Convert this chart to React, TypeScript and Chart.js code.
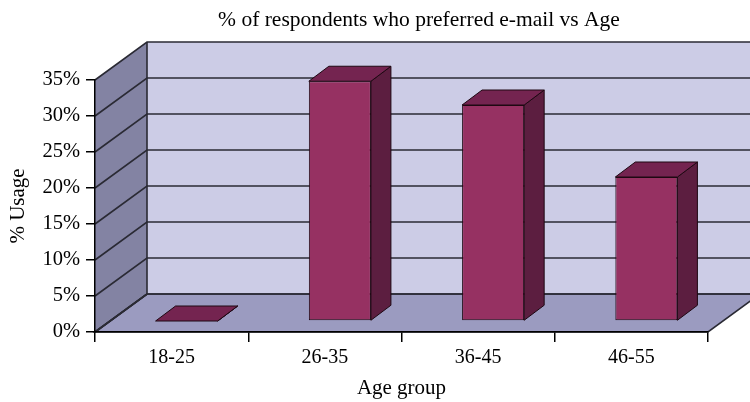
import React, { useEffect, useRef } from "react";
import { Chart, registerables } from "chart.js";

Chart.register(...registerables);

const categories = ["18-25", "26-35", "36-45", "46-55"];
const usage = [0, 33.3, 30, 20];
const yMin = 0;
const yMax = 35;
const yStep = 5;
const titleText = "% of respondents who preferred e-mail vs Age";
const xTitle = "Age group";
const yTitle = "% Usage";

const FONT = "'Liberation Serif', 'Times New Roman', serif";
const WALL_DX = 52;
const WALL_DY = -38;
const BAR_OFF_X = 15;
const BAR_OFF_Y = -11;
const BAR_DX = 20;
const BAR_DY = -15;

const BACK_WALL = "#CCCCE6";
const LEFT_WALL = "#8383A3";
const FLOOR = "#9B9BC0";
const GRID = "#2a2a34";
const BAR_FRONT = "#963162";
const BAR_TOP = "#742450";
const BAR_SIDE = "#5c1e40";
const BAR_EDGE = "#1e0812";

function poly(ctx: CanvasRenderingContext2D, pts: number[][], fill: string, stroke?: string, lw = 1) {
  ctx.beginPath();
  ctx.moveTo(pts[0][0], pts[0][1]);
  for (let i = 1; i < pts.length; i++) ctx.lineTo(pts[i][0], pts[i][1]);
  ctx.closePath();
  ctx.fillStyle = fill;
  ctx.fill();
  if (stroke) {
    ctx.strokeStyle = stroke;
    ctx.lineWidth = lw;
    ctx.stroke();
  }
}

const walls3d = {
  id: "walls3d",
  beforeDraw(chart: any) {
    const { ctx, chartArea } = chart;
    const { left, right, top, bottom } = chartArea;
    const y = chart.scales.y;
    ctx.save();
    poly(ctx, [
      [left + WALL_DX, top + WALL_DY],
      [right + WALL_DX, top + WALL_DY],
      [right + WALL_DX, bottom + WALL_DY],
      [left + WALL_DX, bottom + WALL_DY],
    ], BACK_WALL);
    poly(ctx, [
      [left, top],
      [left + WALL_DX, top + WALL_DY],
      [left + WALL_DX, bottom + WALL_DY],
      [left, bottom],
    ], LEFT_WALL);
    poly(ctx, [
      [left, bottom],
      [right, bottom],
      [right + WALL_DX, bottom + WALL_DY],
      [left + WALL_DX, bottom + WALL_DY],
    ], FLOOR, GRID, 1.6);
    ctx.strokeStyle = GRID;
    ctx.lineWidth = 1.6;
    y.ticks.forEach((t: any) => {
      const py = y.getPixelForValue(t.value);
      ctx.beginPath();
      ctx.moveTo(left, py);
      ctx.lineTo(left + WALL_DX, py + WALL_DY);
      ctx.lineTo(right + WALL_DX, py + WALL_DY);
      ctx.stroke();
    });
    ctx.beginPath();
    ctx.moveTo(left + WALL_DX, top + WALL_DY);
    ctx.lineTo(left + WALL_DX, bottom + WALL_DY);
    ctx.lineTo(left, bottom);
    ctx.stroke();
    ctx.restore();
  },
  beforeDatasetsDraw(chart: any) {
    chart.ctx.save();
    chart.ctx.translate(BAR_OFF_X, BAR_OFF_Y);
  },
  afterDatasetsDraw(chart: any) {
    const ctx = chart.ctx;
    const meta = chart.getDatasetMeta(0);
    meta.data.forEach((el: any) => {
      const { x, y, base, width } = el.getProps(["x", "y", "base", "width"], true);
      const x0 = x - width / 2;
      const x1 = x + width / 2;
      poly(ctx, [
        [x1, y],
        [x1 + BAR_DX, y + BAR_DY],
        [x1 + BAR_DX, base + BAR_DY],
        [x1, base],
      ], BAR_SIDE, BAR_EDGE, 1);
      poly(ctx, [
        [x0, y],
        [x1, y],
        [x1 + BAR_DX, y + BAR_DY],
        [x0 + BAR_DX, y + BAR_DY],
      ], BAR_TOP, BAR_EDGE, 1);
    });
    ctx.restore();
  },
};

export default function App() {
  const ref = useRef<HTMLCanvasElement | null>(null);
  useEffect(() => {
    document.body.style.margin = "0";
    const canvas = ref.current;
    if (!canvas) return;
    Chart.defaults.font.family = FONT;
    Chart.defaults.color = "#000";
    const chart = new Chart(canvas, {
      type: "bar",
      data: {
        labels: categories,
        datasets: [
          {
            data: usage,
            backgroundColor: BAR_FRONT,
            borderColor: BAR_EDGE,
            borderWidth: 1,
            borderSkipped: false,
            barPercentage: 0.405,
            categoryPercentage: 1,
          },
        ],
      },
      options: {
        animation: false,
        responsive: true,
        maintainAspectRatio: false,
        layout: { padding: { left: 0, right: -88, top: 0, bottom: 0 } },
        plugins: {
          legend: { display: false },
          tooltip: { enabled: false },
          title: {
            display: true,
            text: titleText,
            color: "#000",
            font: { family: FONT, size: 21.5, weight: "normal", lineHeight: 1.2 },
            padding: { top: 7, bottom: 47.2 },
          },
        },
        scales: {
          x: {
            offset: true,
            grid: {
              offset: true,
              drawOnChartArea: false,
              drawTicks: true,
              tickLength: 10,
              color: "#000",
              lineWidth: 1.5,
            },
            border: { display: true, color: "#000", width: 1.5 },
            ticks: { color: "#000", font: { family: FONT, size: 20 }, padding: 4, maxRotation: 0 },
            title: {
              display: true,
              text: xTitle,
              color: "#000",
              font: { family: FONT, size: 21, lineHeight: 1.2 },
              padding: { top: 0, bottom: 1.4 },
            },
            afterFit: (s: any) => {
              s.height = 70;
            },
          },
          y: {
            min: yMin,
            max: yMax,
            ticks: {
              stepSize: yStep,
              color: "#000",
              font: { family: FONT, size: 20.5 },
              padding: 6,
              callback: (v: any) => v + "%",
            },
            grid: {
              drawOnChartArea: false,
              drawTicks: true,
              tickLength: 9,
              color: "#000",
              lineWidth: 1.5,
            },
            border: { display: true, color: "#000", width: 1.5 },
            title: {
              display: true,
              text: yTitle,
              color: "#000",
              font: { family: FONT, size: 21, lineHeight: 1.2 },
              padding: { top: 6, bottom: 0 },
            },
            afterFit: (s: any) => {
              s.width = 95;
            },
          },
          yRightSpacer: {
            type: "linear",
            position: "right",
            display: true,
            ticks: { display: false },
            grid: { display: false, drawTicks: false },
            border: { display: false },
            afterFit: (s: any) => {
              s.width = 130;
            },
          },
        },
      },
      plugins: [walls3d],
    });
    return () => chart.destroy();
  }, []);
  return (
    <div style={{ width: 750, height: 402, position: "relative" }}>
      <canvas ref={ref} />
    </div>
  );
}
